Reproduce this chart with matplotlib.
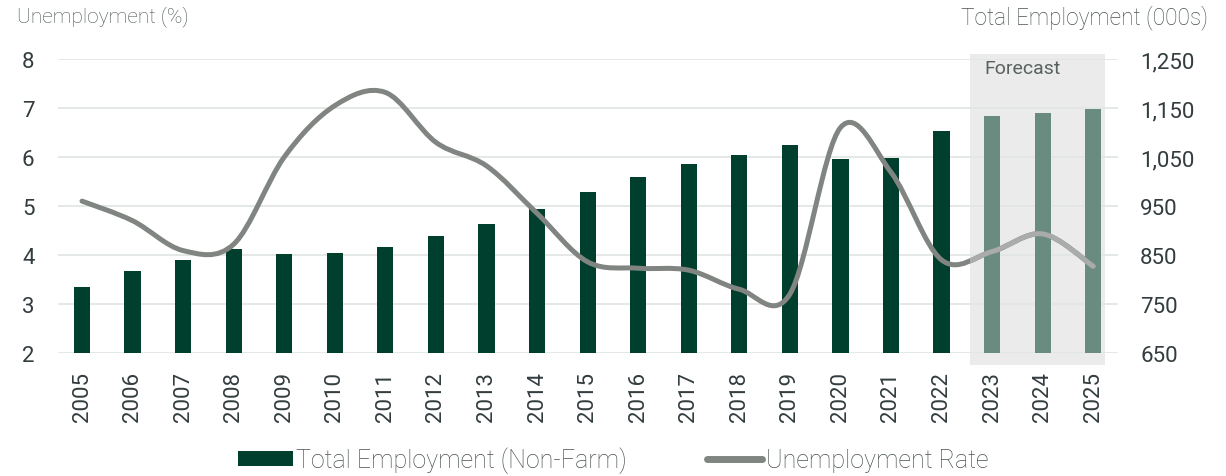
import numpy as np
import matplotlib.pyplot as plt
from matplotlib.path import Path
from matplotlib.patches import PathPatch, Rectangle
from matplotlib.lines import Line2D
from matplotlib.ticker import FuncFormatter

plt.rcParams['font.family'] = ['Roboto', 'DejaVu Sans']

years = list(range(2005, 2026))
employment = [785, 817, 840, 862, 853, 854, 866, 889, 913, 944, 979,
              1009, 1035, 1055, 1074, 1045, 1049, 1103, 1134, 1140, 1149]
unemployment = [5.1, 4.7, 4.09, 4.22, 6.0, 7.05, 7.32, 6.3, 5.82, 4.85, 3.86,
                3.73, 3.69, 3.3, 3.2, 6.6, 5.69, 3.9, 4.07, 4.43, 3.77]
first_forecast = 2023

DARK_GREEN = '#003f2d'
LIGHT_GREEN = '#6a8b80'
LINE_GREY = '#808581'
LINE_GREY_LIGHT = '#a9acaa'
SHADE = '#ebebeb'
TEXT = '#333c3e'
GRID = '#e2e7e6'


def smooth_path(xs, ys):
    # catmull-rom style bezier segments through every point (like a "smoothed" spreadsheet line)
    pts = np.column_stack([xs, ys]).astype(float)
    ext = np.vstack([pts[0], pts, pts[-1]])
    verts = [tuple(pts[0])]
    codes = [Path.MOVETO]
    for i in range(1, len(ext) - 2):
        p0, p1, p2, p3 = ext[i - 1], ext[i], ext[i + 1], ext[i + 2]
        c1 = p1 + (p2 - p0) / 6.0
        c2 = p2 - (p3 - p1) / 6.0
        verts += [tuple(c1), tuple(c2), tuple(p2)]
        codes += [Path.CURVE4] * 3
    return Path(verts, codes)


fig = plt.figure(figsize=(12.26, 4.77), dpi=100)
ax = fig.add_axes([0.0473, 0.258, 0.8646, 0.616])
axr = ax.twinx()
ax.set_zorder(2)
ax.patch.set_visible(False)
axr.set_zorder(1)

x = np.arange(len(years))
is_fc = np.array(years) >= first_forecast
fc_x0, fc_x1 = 17.57, 20.24

# forecast shading, a little taller than the plot area
axr.add_patch(Rectangle((fc_x0, 625.5), fc_x1 - fc_x0, 1260.2 - 625.5,
                        facecolor=SHADE, edgecolor='none', zorder=0.2, clip_on=False))

axr.bar(x, employment, width=0.32, bottom=0,
        color=[LIGHT_GREEN if f else DARK_GREEN for f in is_fc], zorder=2)
axr.set_ylim(650, 1250)
axr.set_yticks(range(650, 1251, 100))
axr.yaxis.set_major_formatter(FuncFormatter(lambda v, p: '{:,.0f}'.format(v)))
axr.set_axisbelow(True)
axr.grid(axis='y', color=GRID, linewidth=1.3)

ax.set_ylim(2, 8)
ax.set_yticks(range(2, 9))
ax.set_xlim(-0.475, 20.49)

path = smooth_path(x, unemployment)
ax.add_patch(PathPatch(path, facecolor='none', edgecolor=LINE_GREY, lw=3.6,
                       capstyle='round', joinstyle='round', zorder=3))
fc_patch = PathPatch(path, facecolor='none', edgecolor=LINE_GREY_LIGHT, lw=3.6,
                     capstyle='round', joinstyle='round', zorder=3.1)
ax.add_patch(fc_patch)
fc_patch.set_clip_path(Rectangle((fc_x0, 0), fc_x1 - fc_x0, 20, transform=ax.transData))

ax.set_xticks(x)
ax.set_xticklabels([str(y) for y in years], rotation=90, fontsize=16, color=TEXT)
ax.tick_params(axis='x', length=0, pad=13)
ax.tick_params(axis='y', length=0, pad=17, labelsize=16, labelcolor=TEXT)
axr.tick_params(axis='y', length=0, pad=16, labelsize=16, labelcolor=TEXT)
for a in (ax, axr):
    for s in a.spines.values():
        s.set_visible(False)

ax.text(18.6, 7.82, 'Forecast', ha='center', va='center',
        fontsize=14, color='#59625f')

fig.text(0.0139, 0.966, 'Unemployment (%)', fontsize=15, color='#4a5254',
         fontweight='light', va='center', ha='left')
fig.text(0.985, 0.962, 'Total Employment (000s)', fontsize=16.3, color='#4a5254',
         fontweight='light', va='center', ha='right')

handles = [Rectangle((0, 0), 1, 1, facecolor=DARK_GREEN),
           Line2D([0], [0], color=LINE_GREY, lw=5, solid_capstyle='round')]
leg = fig.legend(handles, ['Total Employment (Non-Farm)', 'Unemployment Rate'],
                 loc='center', bbox_to_anchor=(0.5, 0.0335), ncol=2, frameon=False,
                 handlelength=2.2, handleheight=0.6, handletextpad=0.15,
                 columnspacing=3.2, prop={'weight': 'light', 'size': 18})
for t in leg.get_texts():
    t.set_color('#4a5254')

fig.savefig('out.png', dpi=100)
